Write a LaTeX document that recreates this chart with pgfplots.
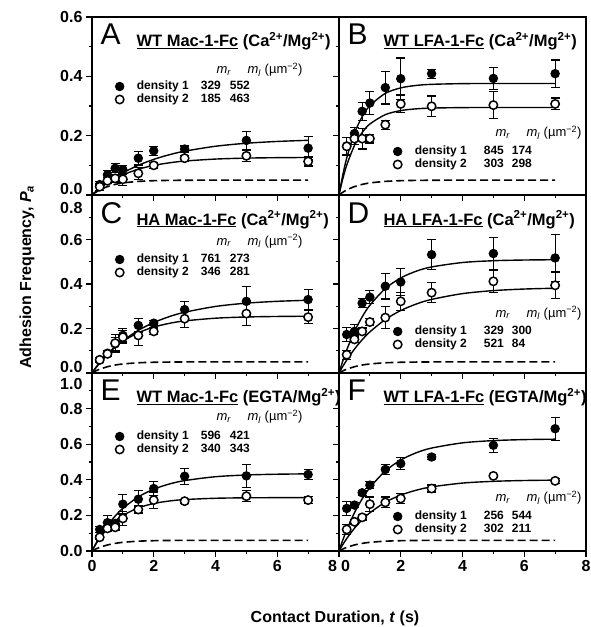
\documentclass[border=0pt]{standalone}
\usepackage{fontspec}
\setmainfont{Liberation Sans}
\usepackage{pgfplots}
\pgfplotsset{compat=1.18}

\tikzset{
  fillpt/.style={black, mark=*, mark size=4.2pt, mark options={fill=black, line width=1pt}},
  openpt/.style={black, mark=*, mark size=4.2pt, mark options={fill=white, line width=1.5pt}},
}
\pgfplotsset{
  panel/.style={
    scale only axis, width=247pt, height=178pt, anchor=south west,
    xmin=0, xmax=8, ymin=0,
    xtick={0,2,4,6,8}, minor x tick num=1, minor y tick num=1,
    tick pos=left, tick align=outside,
    major tick length=6pt, minor tick length=3.5pt,
    tick style={line width=1.2pt, black},
    axis line style={line width=1.6pt},
    tick label style={font=\fontsize{16}{16}\selectfont\bfseries},
    /pgf/number format/assume math mode=true,
    legend style={draw=none, fill=none, inner sep=0pt, outer sep=0pt, row sep=1pt,
      font=\fontsize{12}{14}\selectfont\bfseries, cells={anchor=west},
      nodes={inner sep=0pt, text height=9pt, text depth=3pt}},
  },
  fit/.style={black, line width=1.4pt, smooth, no marks, forget plot},
  nsp/.style={black, line width=1.6pt, dash pattern=on 8pt off 4pt, smooth, no marks, forget plot},
  errb/.style={error bars/.cd, y dir=both, y explicit,
    error bar style={line width=1.2pt, black},
    error mark options={rotate=90, mark size=4.5pt, line width=1.2pt, black}},
}
\newcommand{\entL}[3]{\hspace*{13pt}\makebox[64pt][l]{density #1}\makebox[29pt][l]{#2}#3}
\newcommand{\entR}[3]{\hspace*{13pt}\makebox[69pt][l]{density #1}\makebox[28pt][l]{#2}#3}
\newcommand{\hdr}{\makebox[31pt][l]{\textit{m}\textsubscript{\textit{r}}}\textit{m}\textsubscript{\textit{l}} (µm\textsuperscript{−2})}
\newcommand{\panelhead}[2]{%
  \node[anchor=base west, font=\fontsize{30}{30}\selectfont, xshift=5pt, yshift=-28pt] at (rel axis cs:0,1) {#1};
  \node[anchor=base west, font=\fontsize{16.5}{16.5}\selectfont\bfseries, xshift=41pt, yshift=-30pt] at (rel axis cs:0,1) {#2};}

\begin{document}
\begin{tikzpicture}
\useasboundingbox (0,0) rectangle (591pt,627pt);

% ---------------- A
\begin{axis}[panel, at={(92pt,432pt)}, ymax=0.6, ytick={0,0.2,0.4,0.6},
  yticklabels={\raisebox{6pt}[\height][\depth]{0.0},0.2,0.4,0.6}, xticklabels={},
  legend style={at={(0,1)}, anchor=north west, xshift=23.5pt, yshift=-63.5pt}]
\addlegendimage{only marks, fillpt}\addlegendentry{\entL{1}{329}{552}}
\addlegendimage{only marks, openpt}\addlegendentry{\entL{2}{185}{463}}
\addplot[nsp] coordinates {(0,0)(0.1,0.0077)(0.25,0.0170)(0.5,0.0283)(0.75,0.0357)(1,0.0406)(1.5,0.0459)(2,0.0482)(2.5,0.0492)(3,0.0497)(4,0.0500)(7,0.0500)};
\addplot[fit] coordinates {(0,0)(0.1,0.0093)(0.25,0.0223)(0.5,0.0420)(0.75,0.0594)(1,0.0748)(1.5,0.1002)(2,0.1201)(2.5,0.1356)(3,0.1476)(4,0.1643)(5,0.1744)(6,0.1805)(7,0.1843)};
\addplot[fit] coordinates {(0,0)(0.1,0.0094)(0.25,0.0222)(0.5,0.0406)(0.75,0.0557)(1,0.0681)(1.5,0.0869)(2,0.0997)(2.5,0.1084)(3,0.1144)(4,0.1211)(5,0.1243)(6,0.1258)(7,0.1264)};
\addplot[forget plot, fillpt, only marks, errb] table[x=t, y=p, y error=e] {
t p e
0.25 0.035 0.010
0.5 0.068 0.015
0.75 0.090 0.015
1 0.085 0.015
1.5 0.124 0.023
2 0.149 0.015
3 0.155 0.010
5 0.184 0.030
7 0.158 0.040
};
\addplot[forget plot, openpt, only marks, errb] table[x=t, y=p, y error=e] {
t p e
0.25 0.028 0.012
0.5 0.048 0.010
0.75 0.056 0.012
1 0.053 0.020
1.5 0.073 0.020
2 0.100 0.010
3 0.124 0.010
5 0.132 0.020
7 0.113 0.015
};
\panelhead{A}{\underline{WT Mac-1-Fc} (Ca\textsuperscript{2+}/Mg\textsuperscript{2+})}
\node[anchor=base west, font=\fontsize{13}{14}\selectfont, xshift=121pt, yshift=-57pt] at (rel axis cs:0,1) {\hdr};
\end{axis}

% ---------------- B
\begin{axis}[panel, at={(339pt,432pt)}, ymax=0.6, ytick={0,0.2,0.4,0.6},
  yticklabels={}, xticklabels={},
  legend style={at={(0,1)}, anchor=north west, xshift=54.5pt, yshift=-128.5pt}]
\addlegendimage{only marks, fillpt}\addlegendentry{\entR{1}{845}{174}}
\addlegendimage{only marks, openpt}\addlegendentry{\entR{2}{303}{298}}
\addplot[nsp] coordinates {(0,0)(0.1,0.0077)(0.25,0.0170)(0.5,0.0283)(0.75,0.0357)(1,0.0406)(1.5,0.0459)(2,0.0482)(2.5,0.0492)(3,0.0497)(4,0.0500)(7,0.0500)};
\addplot[fit] coordinates {(0,0)(0.1,0.0560)(0.25,0.1248)(0.5,0.2081)(0.75,0.2639)(1,0.3011)(1.5,0.3425)(2,0.3611)(2.5,0.3693)(3,0.3730)(4,0.3754)(5,0.3759)(7,0.3760)};
\addplot[fit] coordinates {(0,0)(0.1,0.0453)(0.25,0.1005)(0.5,0.1668)(0.75,0.2105)(1,0.2393)(1.5,0.2708)(2,0.2845)(2.5,0.2904)(3,0.2930)(4,0.2946)(5,0.2950)(7,0.2950)};
\addplot[forget plot, fillpt, only marks, errb] table[x=t, y=p, y error=e] {
t p e
0.25 0.165 0.030
0.5 0.207 0.020
0.75 0.282 0.030
1 0.310 0.040
1.5 0.362 0.055
2 0.392 0.070
3 0.409 0.015
5 0.393 0.037
7 0.409 0.046
};
\addplot[forget plot, openpt, only marks, errb] table[x=t, y=p, y error=e] {
t p e
0.25 0.164 0.030
0.5 0.190 0.020
0.75 0.190 0.035
1 0.190 0.015
1.5 0.237 0.015
2 0.307 0.030
3 0.299 0.035
5 0.303 0.045
7 0.307 0.020
};
\panelhead{B}{\underline{WT LFA-1-Fc} (Ca\textsuperscript{2+}/Mg\textsuperscript{2+})}
\node[anchor=base west, font=\fontsize{13}{14}\selectfont, xshift=153pt, yshift=-120pt] at (rel axis cs:0,1) {\hdr};
\end{axis}

% ---------------- C
\begin{axis}[panel, at={(92pt,254pt)}, ymax=0.8, ytick={0,0.2,0.4,0.6,0.8},
  yticklabels={\raisebox{6pt}[\height][\depth]{0.0},0.2,0.4,0.6,\raisebox{-13pt}[\height][\depth]{0.8}}, xticklabels={},
  legend style={at={(0,1)}, anchor=north west, xshift=23.5pt, yshift=-58.5pt}]
\addlegendimage{only marks, fillpt}\addlegendentry{\entL{1}{761}{273}}
\addlegendimage{only marks, openpt}\addlegendentry{\entL{2}{346}{281}}
\addplot[nsp] coordinates {(0,0)(0.1,0.0077)(0.25,0.0170)(0.5,0.0283)(0.75,0.0357)(1,0.0406)(1.5,0.0459)(2,0.0482)(2.5,0.0492)(3,0.0497)(4,0.0500)(7,0.0500)};
\addplot[fit] coordinates {(0,0)(0.1,0.0185)(0.25,0.0443)(0.5,0.0828)(0.75,0.1161)(1,0.1450)(1.5,0.1917)(2,0.2268)(2.5,0.2532)(3,0.2730)(4,0.2991)(5,0.3139)(6,0.3222)(7,0.3269)};
\addplot[fit] coordinates {(0,0)(0.1,0.0201)(0.25,0.0474)(0.5,0.0861)(0.75,0.1176)(1,0.1432)(1.5,0.1811)(2,0.2063)(2.5,0.2230)(3,0.2341)(4,0.2463)(5,0.2518)(6,0.2541)(7,0.2552)};
\addplot[forget plot, fillpt, only marks, errb] table[x=t, y=p, y error=e] {
t p e
0.25 0.059 0.010
0.5 0.089 0.012
0.75 0.131 0.030
1 0.169 0.030
1.5 0.214 0.030
2 0.224 0.012
3 0.285 0.038
5 0.322 0.065
7 0.330 0.045
};
\addplot[forget plot, openpt, only marks, errb] table[x=t, y=p, y error=e] {
t p e
0.25 0.059 0.010
0.5 0.086 0.010
0.75 0.134 0.040
1 0.161 0.030
1.5 0.169 0.045
2 0.187 0.015
3 0.244 0.040
5 0.267 0.055
7 0.251 0.030
};
\panelhead{C}{\underline{HA Mac-1-Fc} (Ca\textsuperscript{2+}/Mg\textsuperscript{2+})}
\node[anchor=base west, font=\fontsize{13}{14}\selectfont, xshift=121pt, yshift=-50pt] at (rel axis cs:0,1) {\hdr};
\end{axis}

% ---------------- D
\begin{axis}[panel, at={(339pt,254pt)}, ymax=0.8, ytick={0,0.2,0.4,0.6,0.8},
  yticklabels={}, xticklabels={},
  legend style={at={(0,1)}, anchor=north west, xshift=54.5pt, yshift=-130.5pt}]
\addlegendimage{only marks, fillpt}\addlegendentry{\entR{1}{329}{300}}
\addlegendimage{only marks, openpt}\addlegendentry{\entR{2}{521}{84}}
\addplot[nsp] coordinates {(0,0)(0.1,0.0077)(0.25,0.0170)(0.5,0.0283)(0.75,0.0357)(1,0.0406)(1.5,0.0459)(2,0.0482)(2.5,0.0492)(3,0.0497)(4,0.0500)(7,0.0500)};
\addplot[fit] coordinates {(0,0)(0.1,0.0443)(0.25,0.1037)(0.5,0.1863)(0.75,0.2521)(1,0.3045)(1.5,0.3796)(2,0.4272)(2.5,0.4575)(3,0.4766)(4,0.4966)(5,0.5046)(6,0.5078)(7,0.5091)};
\addplot[fit] coordinates {(0,0)(0.1,0.0244)(0.25,0.0580)(0.5,0.1073)(0.75,0.1492)(1,0.1847)(1.5,0.2405)(2,0.2808)(2.5,0.3098)(3,0.3308)(4,0.3568)(5,0.3703)(6,0.3774)(7,0.3810)};
\addplot[forget plot, fillpt, only marks, errb] table[x=t, y=p, y error=e] {
t p e
0.25 0.173 0.030
0.5 0.187 0.030
0.75 0.314 0.020
1 0.341 0.030
1.5 0.390 0.057
2 0.409 0.060
3 0.532 0.068
5 0.537 0.072
7 0.517 0.107
};
\addplot[forget plot, openpt, only marks, errb] table[x=t, y=p, y error=e] {
t p e
0.25 0.082 0.020
0.5 0.151 0.015
0.75 0.187 0.015
1 0.229 0.015
1.5 0.249 0.050
2 0.322 0.040
3 0.361 0.045
5 0.412 0.050
7 0.394 0.060
};
\panelhead{D}{\underline{HA LFA-1-Fc} (Ca\textsuperscript{2+}/Mg\textsuperscript{2+})}
\node[anchor=base west, font=\fontsize{13}{14}\selectfont, xshift=153pt, yshift=-122pt] at (rel axis cs:0,1) {\hdr};
\end{axis}

% ---------------- E
\begin{axis}[panel, at={(92pt,76pt)}, ymax=1.0, ytick={0,0.2,0.4,0.6,0.8,1.0},
  yticklabels={0.0,0.2,0.4,0.6,0.8,\raisebox{-10.5pt}[\height][\depth]{1.0}},
  xticklabels={0,2,4,6,\makebox[0pt][r]{8\hspace{2pt}}},
  legend style={at={(0,1)}, anchor=north west, xshift=23.5pt, yshift=-57.5pt}]
\addlegendimage{only marks, fillpt}\addlegendentry{\entL{1}{596}{421}}
\addlegendimage{only marks, openpt}\addlegendentry{\entL{2}{340}{343}}
\addplot[nsp] coordinates {(0,0)(0.1,0.0092)(0.25,0.0204)(0.5,0.0339)(0.75,0.0428)(1,0.0487)(1.5,0.0551)(2,0.0579)(2.5,0.0591)(3,0.0596)(4,0.0600)(7,0.0600)};
\addplot[fit] coordinates {(0,0)(0.1,0.0335)(0.25,0.0789)(0.5,0.1434)(0.75,0.1963)(1,0.2395)(1.5,0.3040)(2,0.3472)(2.5,0.3761)(3,0.3955)(4,0.4173)(5,0.4270)(6,0.4314)(7,0.4334)};
\addplot[fit] coordinates {(0,0)(0.1,0.0312)(0.25,0.0721)(0.5,0.1268)(0.75,0.1684)(1,0.2000)(1.5,0.2423)(2,0.2667)(2.5,0.2808)(3,0.2889)(4,0.2963)(5,0.2988)(6,0.2996)(7,0.2999)};
\addplot[forget plot, fillpt, only marks, errb] table[x=t, y=p, y error=e] {
t p e
0.25 0.121 0.015
0.5 0.159 0.040
0.75 0.155 0.015
1 0.263 0.055
1.5 0.291 0.050
2 0.351 0.040
3 0.420 0.045
5 0.422 0.065
7 0.430 0.030
};
\addplot[forget plot, openpt, only marks, errb] table[x=t, y=p, y error=e] {
t p e
0.25 0.077 0.010
0.5 0.127 0.015
0.75 0.133 0.015
1 0.183 0.040
1.5 0.233 0.020
2 0.286 0.045
3 0.280 0.010
5 0.308 0.030
7 0.286 0.020
};
\panelhead{E}{\underline{WT Mac-1-Fc} (EGTA/Mg\textsuperscript{2+})}
\node[anchor=base west, font=\fontsize{13}{14}\selectfont, xshift=121pt, yshift=-48pt] at (rel axis cs:0,1) {\hdr};
\end{axis}

% ---------------- F
\begin{axis}[panel, at={(339pt,76pt)}, ymax=1.0, ytick={0,0.2,0.4,0.6,0.8,1.0},
  yticklabels={}, xticklabels={\makebox[0pt][l]{\hspace{2pt}0},2,4,6,8},
  legend style={at={(0,1)}, anchor=north west, xshift=54.5pt, yshift=-137.5pt}]
\addlegendimage{only marks, fillpt}\addlegendentry{\entR{1}{256}{544}}
\addlegendimage{only marks, openpt}\addlegendentry{\entR{2}{302}{211}}
\addplot[nsp] coordinates {(0,0)(0.1,0.0092)(0.25,0.0204)(0.5,0.0339)(0.75,0.0428)(1,0.0487)(1.5,0.0551)(2,0.0579)(2.5,0.0591)(3,0.0596)(4,0.0600)(7,0.0600)};
\addplot[fit] coordinates {(0,0)(0.1,0.0504)(0.25,0.1185)(0.5,0.2147)(0.75,0.2928)(1,0.3562)(1.5,0.4495)(2,0.5110)(2.5,0.5516)(3,0.5783)(4,0.6075)(5,0.6202)(6,0.6258)(7,0.6282)};
\addplot[fit] coordinates {(0,0)(0.1,0.0296)(0.25,0.0700)(0.5,0.1278)(0.75,0.1754)(1,0.2146)(1.5,0.2738)(2,0.3141)(2.5,0.3415)(3,0.3602)(4,0.3816)(5,0.3914)(6,0.3960)(7,0.3982)};
\addplot[forget plot, fillpt, only marks, errb] table[x=t, y=p, y error=e] {
t p e
0.25 0.239 0.040
0.5 0.258 0.015
0.75 0.327 0.015
1 0.370 0.020
1.5 0.458 0.030
2 0.491 0.035
3 0.528 0.015
5 0.594 0.040
7 0.687 0.065
};
\addplot[forget plot, openpt, only marks, errb] table[x=t, y=p, y error=e] {
t p e
0.25 0.121 0.030
0.5 0.164 0.015
0.75 0.189 0.015
1 0.263 0.040
1.5 0.273 0.030
2 0.295 0.030
3 0.351 0.020
5 0.422 0.010
7 0.394 0.015
};
\panelhead{F}{\underline{WT LFA-1-Fc} (EGTA/Mg\textsuperscript{2+})}
\node[anchor=base west, font=\fontsize{13}{14}\selectfont, xshift=153pt, yshift=-129pt] at (rel axis cs:0,1) {\hdr};
\end{axis}

\node[rotate=90, font=\fontsize{16}{16}\selectfont\bfseries] at (27pt,350pt) {Adhesion Frequency, \textit{P}\textsubscript{\textit{a}}};
\node[font=\fontsize{16}{16}\selectfont\bfseries] at (335pt,9pt) {Contact Duration, \textit{t} (s)};
\end{tikzpicture}
\end{document}
